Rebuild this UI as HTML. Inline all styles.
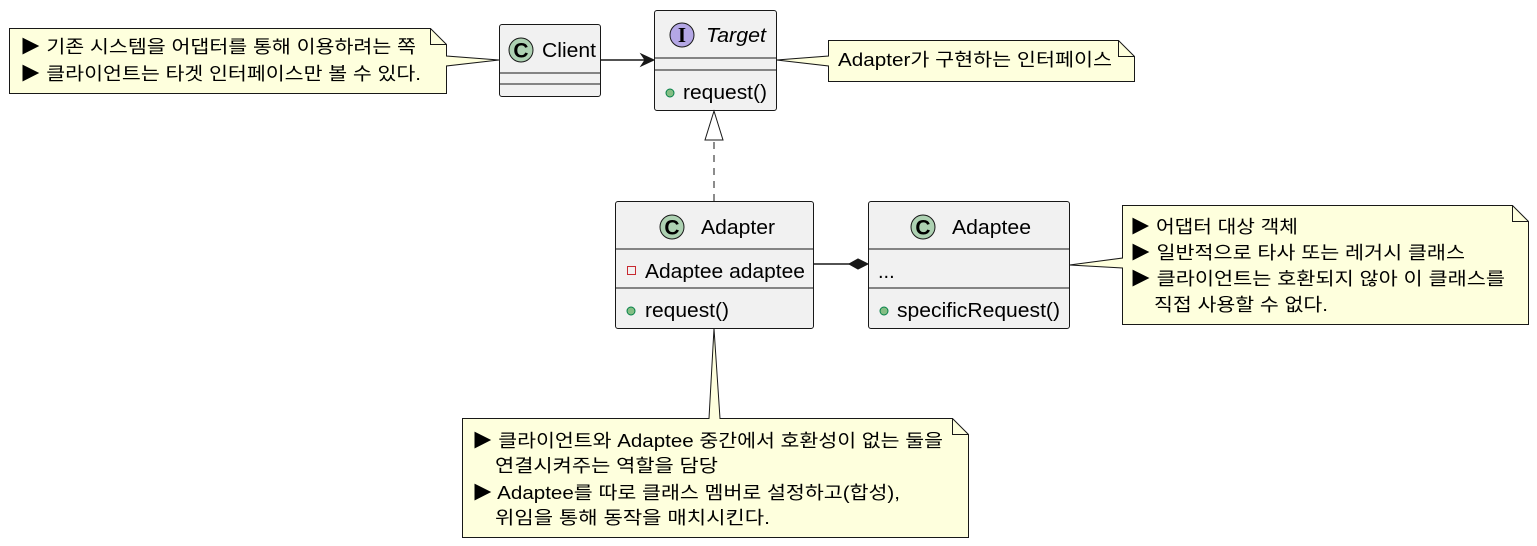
<!DOCTYPE html>
<html><head><meta charset="utf-8"><style>
html,body{margin:0;padding:0;background:#fff;}
svg{display:block;}
text{font-family:"Liberation Sans","Noto Sans CJK KR",sans-serif;fill:#000;}
.n{font-size:18px;}
.c{font-size:20px;}
.k{font-size:21px;font-weight:bold;}
</style></head><body>
<svg width="1537" height="546" viewBox="0 0 1537 546" xmlns="http://www.w3.org/2000/svg">
<!-- Left note -->
<path d="M9.5,28.5 H430.5 L446.5,44.5 V56 L499,60 L446.5,66 V93.5 H9.5 Z" fill="#FEFFDD" stroke="#181818" stroke-width="1"/>
<path d="M430.5,28.5 V44.5 H446.5" fill="none" stroke="#181818"/>
<text class="n" x="20" y="53" textLength="396" lengthAdjust="spacingAndGlyphs">▶ 기존 시스템을 어댑터를 통해 이용하려는 쪽</text>
<text class="n" x="20" y="80" textLength="401" lengthAdjust="spacingAndGlyphs">▶ 클라이언트는 타겟 인터페이스만 볼 수 있다.</text>

<!-- Client -->
<rect x="499.5" y="24.5" width="101" height="72" rx="2.5" fill="#F1F1F1" stroke="#181818"/>
<line x1="499.5" y1="73" x2="600.5" y2="73" stroke="#181818"/>
<line x1="499.5" y1="84" x2="600.5" y2="84" stroke="#181818"/>
<circle cx="521" cy="50" r="12" fill="#ADD1B2" stroke="#181818"/>
<text class="k" x="521" y="57.5" text-anchor="middle">C</text>
<text class="c" x="542" y="57" textLength="54" lengthAdjust="spacingAndGlyphs">Client</text>

<!-- arrow client->target -->
<line x1="600.5" y1="60" x2="650" y2="60" stroke="#181818" stroke-width="1.5"/>
<path d="M654,60 L641,54 L645,60 L641,66 Z" fill="#181818" stroke="#181818"/>

<!-- Target -->
<rect x="654.5" y="10.5" width="122" height="100" rx="2.5" fill="#F1F1F1" stroke="#181818"/>
<line x1="654.5" y1="58" x2="776.5" y2="58" stroke="#181818"/>
<line x1="654.5" y1="70" x2="776.5" y2="70" stroke="#181818"/>
<circle cx="682" cy="35" r="12" fill="#B4A7E5" stroke="#181818"/>
<text x="682" y="42" text-anchor="middle" style="font-size:21px;font-weight:bold;font-family:'Liberation Serif',serif">I</text>
<text class="c" x="706" y="42" font-style="italic" textLength="60" lengthAdjust="spacingAndGlyphs">Target</text>
<circle cx="670" cy="93" r="4" fill="#84BE84" stroke="#038048"/>
<text class="c" x="683" y="99" textLength="84" lengthAdjust="spacingAndGlyphs">request()</text>

<!-- Target note -->
<path d="M828.5,40.5 H1118.5 L1134.5,56.5 V81.5 H828.5 V66 L776.5,60 L828.5,56 Z" fill="#FEFFDD" stroke="#181818"/>
<path d="M1118.5,40.5 V56.5 H1134.5" fill="none" stroke="#181818"/>
<text class="n" x="838" y="66" textLength="274" lengthAdjust="spacingAndGlyphs">Adapter가 구현하는 인터페이스</text>

<!-- realization -->
<line x1="714" y1="201" x2="714" y2="140" stroke="#181818" stroke-dasharray="7,6"/>
<path d="M714,111 L705,140 L723,140 Z" fill="none" stroke="#181818"/>

<!-- Adapter -->
<rect x="615.5" y="201.5" width="198" height="127" rx="2.5" fill="#F1F1F1" stroke="#181818"/>
<line x1="615.5" y1="249" x2="813.5" y2="249" stroke="#181818"/>
<line x1="615.5" y1="288" x2="813.5" y2="288" stroke="#181818"/>
<circle cx="672" cy="227" r="12" fill="#ADD1B2" stroke="#181818"/>
<text class="k" x="672" y="234.5" text-anchor="middle">C</text>
<text class="c" x="701" y="234" textLength="74" lengthAdjust="spacingAndGlyphs">Adapter</text>
<rect x="627.5" y="266.5" width="8" height="8" fill="none" stroke="#C82930"/>
<text class="c" x="645" y="278" textLength="160" lengthAdjust="spacingAndGlyphs">Adaptee adaptee</text>
<circle cx="631" cy="311" r="4" fill="#84BE84" stroke="#038048"/>
<text class="c" x="645" y="317" textLength="84" lengthAdjust="spacingAndGlyphs">request()</text>

<!-- composition -->
<line x1="813.5" y1="264" x2="850" y2="264" stroke="#181818" stroke-width="1.5"/>
<path d="M868,264 L858,259 L849,264 L858,269 Z" fill="#181818" stroke="#181818"/>

<!-- Adaptee -->
<rect x="868.5" y="201.5" width="201" height="127" rx="2.5" fill="#F1F1F1" stroke="#181818"/>
<line x1="868.5" y1="249" x2="1069.5" y2="249" stroke="#181818"/>
<line x1="868.5" y1="288" x2="1069.5" y2="288" stroke="#181818"/>
<circle cx="923" cy="227" r="12" fill="#ADD1B2" stroke="#181818"/>
<text class="k" x="923" y="234.5" text-anchor="middle">C</text>
<text class="c" x="952" y="234" textLength="79" lengthAdjust="spacingAndGlyphs">Adaptee</text>
<text class="c" x="878" y="278">...</text>
<circle cx="884" cy="311" r="4" fill="#84BE84" stroke="#038048"/>
<text class="c" x="897" y="317" textLength="163" lengthAdjust="spacingAndGlyphs">specificRequest()</text>

<!-- Adaptee note -->
<path d="M1122.5,205.5 H1512.5 L1528.5,221.5 V324.5 H1122.5 V268 L1069.5,265 L1122.5,258 Z" fill="#FEFFDD" stroke="#181818"/>
<path d="M1512.5,205.5 V221.5 H1528.5" fill="none" stroke="#181818"/>
<text class="n" x="1130" y="233" textLength="168" lengthAdjust="spacingAndGlyphs">▶ 어댑터 대상 객체</text>
<text class="n" x="1130" y="259" textLength="335" lengthAdjust="spacingAndGlyphs">▶ 일반적으로 타사 또는 레거시 클래스</text>
<text class="n" x="1130" y="285" textLength="375" lengthAdjust="spacingAndGlyphs">▶ 클라이언트는 호환되지 않아 이 클래스를</text>
<text class="n" x="1154" y="311" textLength="174" lengthAdjust="spacingAndGlyphs">직접 사용할 수 없다.</text>

<!-- Bottom note -->
<path d="M462.5,418.5 H709 L714,328.5 L720,418.5 H952.5 L968.5,434.5 V537.5 H462.5 Z" fill="#FEFFDD" stroke="#181818"/>
<path d="M952.5,418.5 V434.5 H968.5" fill="none" stroke="#181818"/>
<text class="n" x="472" y="447" textLength="471" lengthAdjust="spacingAndGlyphs">▶ 클라이언트와 Adaptee 중간에서 호환성이 없는 둘을</text>
<text class="n" x="495" y="472" textLength="223" lengthAdjust="spacingAndGlyphs">연결시켜주는 역할을 담당</text>
<text class="n" x="472" y="499" textLength="428" lengthAdjust="spacingAndGlyphs">▶ Adaptee를 따로 클래스 멤버로 설정하고(합성),</text>
<text class="n" x="495" y="524" textLength="275" lengthAdjust="spacingAndGlyphs">위임을 통해 동작을 매치시킨다.</text>
</svg>
</body></html>
